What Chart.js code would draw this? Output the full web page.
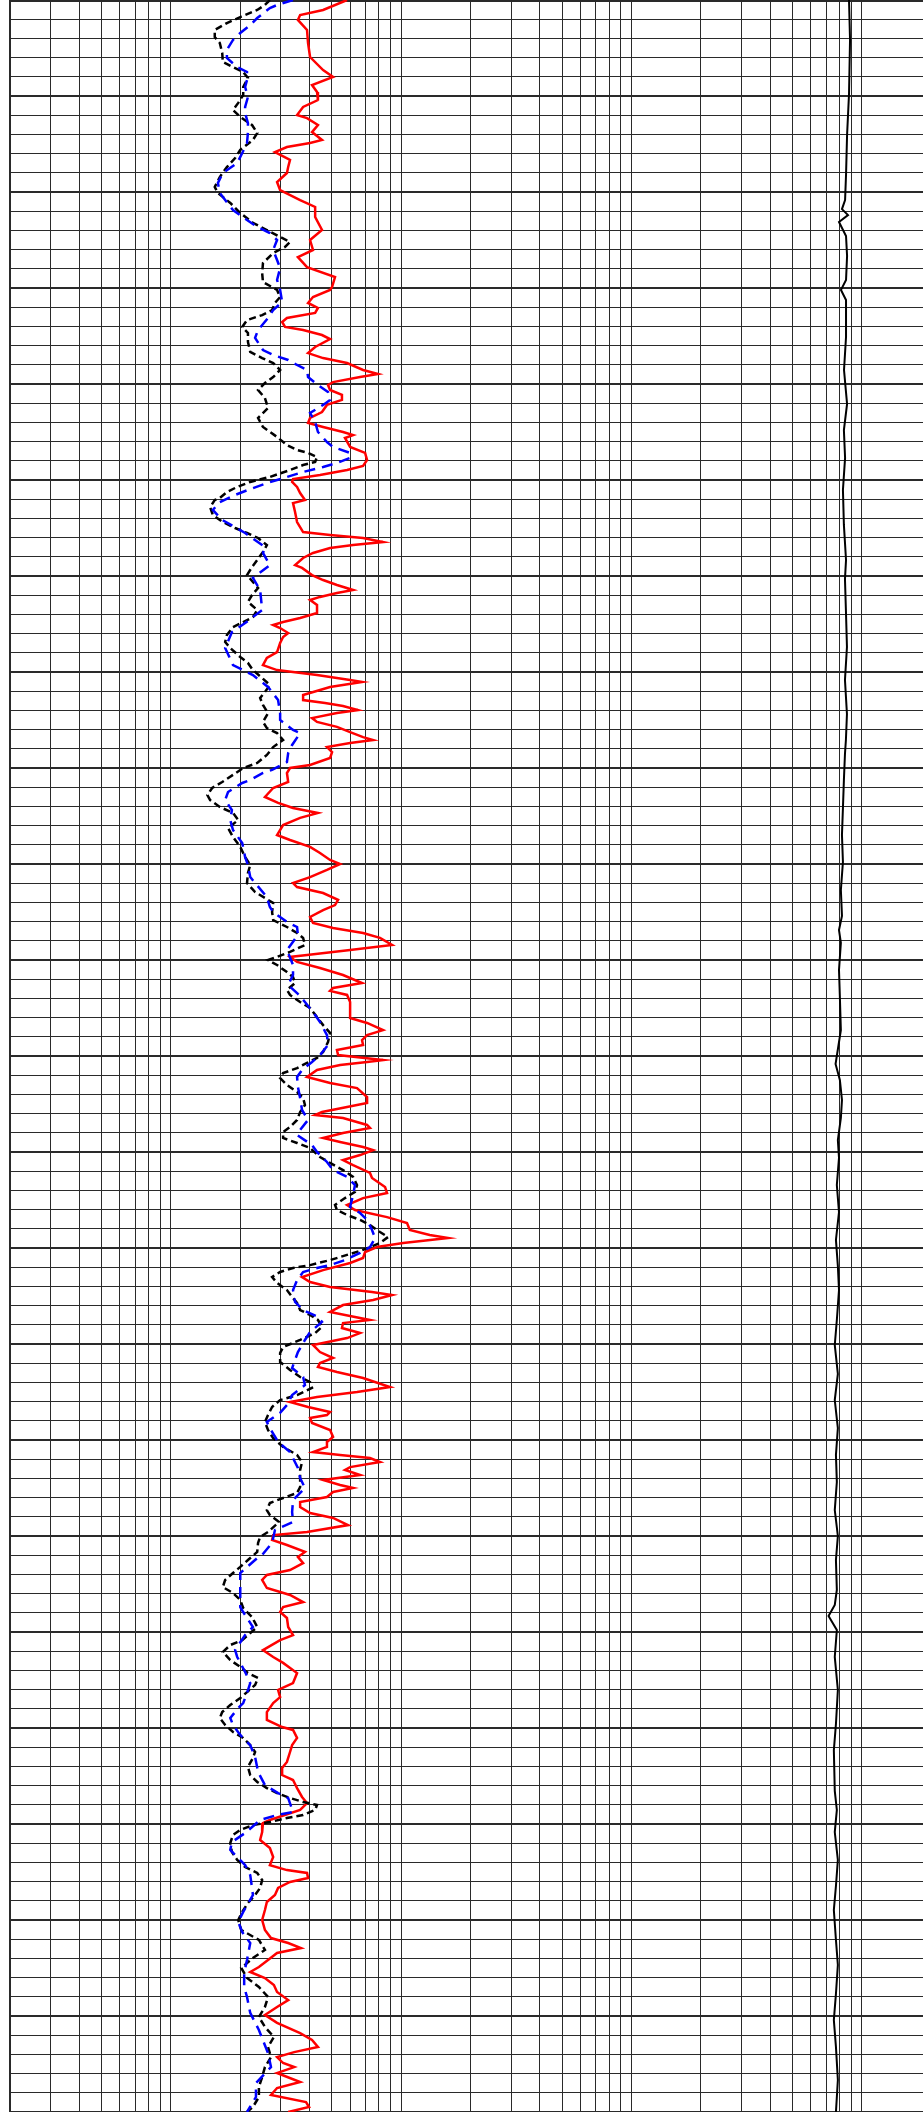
<!DOCTYPE html>
<html>
<head>
<meta charset="utf-8">
<title>Log track</title>
<script src="https://cdn.jsdelivr.net/npm/chart.js@4.4.1/dist/chart.umd.min.js"></script>
<style>
  html, body { margin: 0; padding: 0; background: #fff; overflow: hidden; }
  #wrap { width: 923px; height: 2112px; overflow: hidden; }
  canvas { display: block; }
</style>
</head>
<body>
<div id="wrap"><canvas id="logTrack" width="931" height="2112"></canvas></div>
<script>
// depth range of the track (no labels on the picture, 10 per minor line)
const depthTop = 0;
const depthBottom = 1100;

// log grid: decades x 1..9, track runs 0.2 .. 2000
const gridDecades = [0.1, 1, 10, 100, 1000];
const gridSteps = [1, 2, 3, 4, 5, 6, 7, 8, 9];
const scaleMin = 0.2;
const scaleMax = 2000;

// [depth, value]
// blue long dashes
const mediumCurve = [
  [0,3.39],[2.6,2.89],[4.2,2.69],[9.4,2.37],[13.0,2.21],[17.2,2.00],[20.8,1.86],[26.0,1.75],[30.2,1.75],[34.9,1.94],
  [37.5,2.14],[41.7,2.14],[45.3,2.10],[50.5,2.16],[55.7,2.10],[58.9,2.10],[64.1,2.16],[68.8,2.16],[74.5,2.14],[79.7,2.04],
  [84.9,1.94],[90.1,1.68],[95.3,1.60],[100.5,1.63],[104.2,1.72],[109.4,1.86],[114.6,2.14],[118.2,2.37],[121.4,2.69],[125.0,2.89],
  [130.2,2.78],[135.4,2.89],[139.6,2.98],[145.8,2.89],[151.0,2.98],[157.3,3.04],[161.5,2.78],[165.6,2.64],[171.9,2.39],[176.0,2.32],
  [182.3,2.51],[184.9,2.78],[187.5,3.23],[190.1,3.53],[192.7,3.90],[196.4,3.94],[200.5,4.35],[204.2,4.81],[208.3,4.91],[210.9,4.58],
  [215.1,4.02],[219.8,4.23],[225.0,4.35],[230.2,4.76],[232.8,5.06],[235.9,6.00],[238.5,6.00],[241.1,5.26],[243.2,4.58],[245.8,3.75],
  [248.4,3.19],[250.0,2.89],[251.6,2.61],[255.2,2.16],[257.8,1.90],[261.5,1.63],[265.6,1.52],[270.8,1.67],[277.6,2.10],[284.9,2.56],
  [288.0,2.51],[294.3,2.69],[301.0,2.27],[307.3,2.44],[317.7,2.49],[324.5,2.10],[329.2,1.84],[337.5,1.72],[346.4,1.86],[351.6,2.27],
  [357.8,2.64],[364.6,2.92],[371.4,2.98],[375.0,2.98],[380.2,3.39],[381.8,3.64],[388.0,3.36],[392.2,3.23],[396.9,3.19],[401.0,2.75],
  [402.6,2.51],[406.3,2.21],[407.8,2.04],[412.5,1.77],[416.7,1.72],[421.9,1.84],[427.1,1.81],[432.3,1.86],[439.1,2.04],[446.4,2.10],
  [450.5,2.16],[456.8,2.21],[459.9,2.32],[467.2,2.61],[472.4,2.69],[475.0,2.78],[480.2,3.19],[482.8,3.53],[487.0,3.56],[491.1,3.36],
  [494.8,3.19],[502.6,3.39],[507.8,3.39],[513.0,3.23],[517.2,3.53],[521.9,3.82],[527.1,4.14],[532.3,4.44],[539.1,4.76],[544.3,4.81],
  [549.5,4.44],[553.1,4.10],[557.3,3.71],[560.9,3.53],[566.1,3.56],[571.9,3.64],[578.1,3.71],[583.3,3.94],[588.5,3.64],[591.1,3.53],
  [596.4,4.10],[600.0,4.31],[605.2,4.76],[609.4,5.06],[613.0,5.82],[617.2,6.30],[622.4,6.18],[628.6,6.00],[631.8,6.63],[635.4,7.11],
  [640.6,7.47],[644.8,7.70],[649.5,7.32],[652.6,6.63],[656.3,5.70],[658.9,4.91],[660.4,4.31],[662.5,3.75],[666.7,3.53],[671.9,3.39],
  [678.1,3.46],[682.3,3.75],[685.9,4.35],[688.5,4.53],[693.8,4.02],[697.9,3.82],[704.2,3.56],[708.3,3.46],[712.5,3.36],[717.2,3.75],
  [721.4,3.82],[726.6,3.36],[731.8,3.19],[735.9,2.98],[740.6,2.61],[743.8,2.69],[751.0,2.92],[756.3,3.29],[764.6,3.56],[769.8,3.64],
  [775.0,3.82],[781.3,3.39],[787.5,3.36],[792.7,3.39],[796.9,2.83],[803.6,2.75],[809.9,2.49],[811.5,2.37],[819.3,2.00],[821.9,2.00],
  [829.2,2.00],[837.0,2.00],[839.6,2.06],[847.4,2.27],[851.6,2.10],[859.4,1.90],[863.0,1.94],[870.8,2.10],[876.6,2.21],[881.8,2.14],
  [887.0,2.06],[889.6,1.96],[894.8,1.81],[898.4,1.86],[903.6,2.00],[908.9,2.21],[915.1,2.32],[922.9,2.39],[929.7,2.56],[933.9,2.92],
  [936.5,3.23],[943.8,3.39],[945.3,2.89],[947.9,2.44],[954.7,2.10],[959.4,1.84],[963.5,1.81],[971.4,2.10],[976.6,2.21],[983.3,2.25],
  [987.0,2.27],[995.8,2.06],[1001.0,1.96],[1006.3,2.04],[1012.0,2.21],[1020.8,2.14],[1027.6,2.08],[1034.9,2.08],[1040.1,2.14],[1048.4,2.21],
  [1057.3,2.41],[1069.3,2.64],[1076.6,2.72],[1084.9,2.34],[1092.2,2.34],[1100,2.14]
];

// black short dashes
const shallowCurve = [
  [0,2.69],[2.6,2.56],[5.2,2.37],[8.9,2.00],[12.0,1.75],[15.6,1.55],[19.3,1.55],[22.4,1.63],[27.6,1.67],[32.3,1.68],
  [34.9,1.86],[37.5,2.06],[40.6,2.16],[45.3,2.06],[49.5,2.06],[53.6,1.96],[57.3,1.86],[60.9,2.00],[65.1,2.25],[69.3,2.37],
  [72.9,2.27],[78.1,2.00],[82.3,1.90],[87.0,1.75],[92.2,1.63],[97.4,1.55],[100.5,1.60],[105.7,1.81],[110.9,2.00],[116.1,2.27],
  [119.8,2.61],[123.4,2.98],[126.0,3.29],[128.6,3.13],[131.8,2.78],[137.0,2.51],[142.2,2.49],[146.9,2.51],[151.0,2.89],[154.7,2.98],
  [157.8,2.83],[161.5,2.75],[164.1,2.49],[166.7,2.14],[170.3,2.04],[173.4,2.16],[178.1,2.16],[183.3,2.21],[186.5,2.49],[189.1,2.78],
  [192.7,2.98],[196.4,2.78],[199.5,2.56],[203.1,2.39],[207.3,2.56],[212.5,2.64],[217.7,2.39],[222.4,2.51],[227.6,2.89],[231.8,3.19],
  [234.4,3.53],[235.9,3.94],[238.0,4.31],[240.6,4.23],[242.2,3.75],[244.8,3.29],[248.4,2.69],[251.0,2.21],[253.6,1.94],[256.3,1.75],
  [259.4,1.63],[260.4,1.55],[264.1,1.48],[268.2,1.52],[271.9,1.68],[275.0,1.90],[277.6,2.14],[280.2,2.39],[283.9,2.61],[287.5,2.51],
  [291.7,2.37],[295.3,2.25],[299.5,2.14],[303.1,2.27],[306.3,2.39],[309.9,2.25],[313.5,2.16],[317.7,2.37],[321.4,2.27],[324.0,2.06],
  [326.6,1.86],[330.7,1.75],[334.4,1.72],[337.5,1.81],[342.2,2.00],[345.3,2.16],[349.0,2.27],[353.1,2.49],[356.8,2.69],[360.4,2.56],
  [363.5,2.44],[367.2,2.51],[371.4,2.64],[376.0,2.51],[379.2,2.61],[381.8,2.89],[385.4,3.07],[389.1,2.78],[393.2,2.61],[397.4,2.37],
  [400.0,2.06],[403.6,1.86],[407.3,1.67],[410.4,1.51],[414.1,1.44],[416.7,1.48],[420.3,1.63],[423.4,1.86],[427.1,1.96],[431.3,1.77],
  [435.9,1.86],[441.1,2.00],[446.4,2.10],[450.5,2.21],[454.7,2.16],[459.9,2.14],[464.6,2.32],[467.7,2.56],[470.3,2.78],[475.0,2.75],
  [479.2,2.78],[482.8,3.19],[485.9,3.53],[488.5,3.75],[492.2,3.82],[495.8,3.29],[498.4,2.89],[500.0,2.64],[502.6,2.89],[506.3,3.19],
  [508.9,3.39],[512.0,3.46],[515.6,3.19],[518.2,3.29],[521.9,3.64],[525.0,4.02],[529.7,4.31],[533.9,4.58],[538.0,4.91],[542.7,4.81],
  [547.9,4.58],[551.0,4.31],[553.6,3.90],[556.3,3.53],[558.9,3.07],[561.5,2.98],[565.1,3.19],[568.8,3.53],[571.9,3.75],[575.5,3.82],
  [579.2,3.64],[583.3,3.53],[587.0,3.29],[589.6,3.07],[592.7,3.07],[595.3,3.53],[597.9,4.02],[602.6,4.44],[605.7,4.91],[609.4,5.59],
  [613.0,6.18],[617.2,6.43],[620.8,6.30],[624.0,5.70],[627.6,5.16],[630.2,5.26],[632.8,5.82],[635.4,6.63],[638.0,7.32],[641.7,8.09],
  [644.3,8.77],[647.4,8.09],[651.0,6.83],[653.6,5.82],[656.3,4.91],[658.9,4.02],[660.4,3.39],[662.5,2.98],[665.1,2.75],[668.2,2.89],
  [671.9,3.19],[675.5,3.36],[678.6,3.53],[682.3,3.64],[684.9,4.02],[687.5,4.35],[691.1,4.53],[694.3,4.23],[697.9,3.64],[701.6,3.07],
  [704.7,2.98],[709.4,2.98],[713.5,3.29],[717.2,3.64],[719.8,4.02],[722.9,4.10],[726.6,3.53],[729.2,2.98],[732.8,2.75],[737.0,2.64],
  [740.6,2.56],[744.8,2.64],[749.0,2.78],[753.6,3.07],[757.8,3.53],[761.5,3.71],[765.6,3.64],[769.8,3.64],[774.5,3.64],[777.6,3.53],
  [780.2,3.07],[782.8,2.69],[786.5,2.61],[789.1,2.69],[792.7,2.95],[797.9,2.64],[800.5,2.44],[803.6,2.39],[808.3,2.37],[812.5,2.16],
  [816.1,2.00],[819.3,1.86],[822.9,1.72],[826.6,1.68],[829.7,1.86],[833.3,2.00],[837.5,2.06],[842.2,2.25],[847.4,2.37],[850.5,2.21],
  [854.2,2.04],[856.8,1.81],[860.4,1.68],[864.6,1.81],[868.2,2.00],[871.4,2.16],[874.0,2.39],[877.6,2.32],[881.3,2.14],[884.4,2.00],
  [888.0,1.81],[891.7,1.67],[894.8,1.63],[898.4,1.72],[902.1,1.86],[905.2,2.06],[908.9,2.21],[912.5,2.32],[915.6,2.27],[920.3,2.16],
  [924.5,2.21],[928.1,2.37],[931.3,2.61],[933.9,2.89],[936.5,3.29],[938.5,3.75],[940.1,4.31],[942.7,4.23],[945.3,3.75],[946.9,3.19],
  [949.0,2.69],[950.5,2.27],[953.1,2.00],[955.7,1.86],[959.9,1.81],[964.6,1.84],[968.7,1.94],[972.4,2.10],[975.5,2.37],[979.2,2.49],
  [983.3,2.44],[987.0,2.32],[991.1,2.16],[995.8,2.04],[1000.0,1.96],[1005.2,2.02],[1010.4,2.41],[1015.6,2.56],[1019.8,2.27],[1025.0,2.02],
  [1030.2,2.14],[1034.9,2.41],[1040.1,2.64],[1045.3,2.56],[1050.5,2.41],[1055.7,2.56],[1060.9,2.80],[1066.1,2.64],[1071.4,2.72],[1076.6,2.56],
  [1081.8,2.49],[1087.0,2.41],[1092.2,2.41],[1097.4,2.27],[1100,2.14]
];

// red solid
const deepCurve = [
  [0,5.82],[5.2,4.58],[7.8,3.64],[10.4,3.56],[15.6,3.90],[22.4,3.94],[29.7,4.02],[36.5,4.58],[40.1,5.06],[44.3,4.10],
  [47.9,4.31],[52.1,4.35],[55.7,3.75],[59.9,3.53],[61.5,3.90],[65.1,4.35],[68.8,4.10],[72.9,4.53],[74.5,4.02],[76.6,3.19],
  [79.2,2.83],[83.3,3.29],[87.0,3.23],[90.1,3.19],[94.8,2.89],[99.0,2.98],[104.2,3.64],[107.8,4.23],[113.0,4.23],[119.8,4.53],
  [125.0,4.02],[130.2,4.14],[133.9,3.56],[139.1,3.90],[144.3,5.16],[149.5,5.01],[151.0,4.91],[154.7,4.14],[157.8,3.94],[160.4,4.35],
  [163.0,4.23],[165.6,3.19],[167.7,3.04],[170.3,3.13],[171.9,3.75],[174.5,4.53],[176.6,4.91],[180.7,4.23],[183.9,3.94],[186.5,4.58],
  [189.1,5.82],[192.7,6.83],[194.8,7.93],[196.4,6.63],[199.0,5.06],[200.5,4.81],[203.1,4.91],[205.7,5.53],[208.3,5.53],[210.9,4.76],
  [214.6,4.53],[217.7,4.02],[220.3,3.94],[222.4,4.58],[225.0,5.59],[226.6,6.18],[228.1,5.70],[232.8,6.00],[235.9,6.97],[239.6,7.11],
  [242.7,6.83],[244.8,5.82],[247.4,4.44],[249.5,3.39],[251.0,3.36],[253.6,3.53],[256.8,3.64],[260.4,3.82],[262.0,3.39],[266.7,3.46],
  [271.9,3.53],[277.1,3.75],[278.6,4.91],[280.2,6.83],[282.3,8.34],[283.9,6.18],[285.4,4.91],[288.0,4.14],[290.6,3.75],[294.3,3.46],
  [295.8,3.71],[299.5,4.10],[302.1,4.58],[304.7,5.26],[307.3,6.18],[308.9,5.26],[310.9,4.44],[312.5,4.02],[315.1,4.31],[319.3,4.31],
  [321.9,3.64],[324.0,3.07],[325.5,2.78],[327.1,2.98],[329.7,3.23],[331.8,3.07],[334.9,2.98],[339.6,2.89],[342.7,2.61],[346.4,2.51],
  [349.0,2.89],[351.6,4.31],[354.2,6.00],[355.2,6.76],[357.8,4.91],[359.4,4.44],[362.0,3.75],[364.6,3.75],[366.1,4.67],[367.7,5.59],
  [369.8,6.49],[371.4,5.26],[374.0,4.10],[376.0,4.31],[378.6,5.26],[381.3,6.00],[383.9,6.83],[385.4,7.55],[387.0,6.00],[389.1,4.76],
  [391.7,5.01],[394.8,4.91],[398.4,4.02],[400.0,3.29],[402.6,3.19],[407.3,3.23],[410.4,2.78],[415.1,2.56],[418.2,2.92],[420.8,3.39],
  [423.4,4.35],[426.0,3.64],[429.7,3.07],[434.9,2.89],[437.5,3.29],[441.1,4.02],[444.3,4.44],[447.9,4.91],[450.0,5.43],[453.1,4.76],
  [456.8,4.02],[459.9,3.39],[462.0,3.53],[465.1,4.58],[468.7,5.32],[471.4,5.16],[474.0,4.58],[477.6,4.02],[480.7,4.14],[483.3,5.06],
  [485.9,6.83],[488.5,8.09],[492.2,9.13],[494.8,6.00],[497.4,3.90],[498.4,3.29],[501.0,3.53],[504.2,4.44],[507.8,5.59],[512.0,6.76],
  [514.6,5.06],[516.1,4.91],[518.2,5.82],[521.9,6.00],[530.2,6.00],[532.8,7.11],[536.5,8.34],[539.1,7.11],[541.7,6.76],[544.3,6.83],
  [546.9,5.26],[549.5,5.32],[552.1,8.34],[553.1,7.11],[554.7,5.43],[557.3,4.31],[560.9,3.90],[564.1,4.91],[566.7,6.43],[571.4,7.11],
  [574.5,7.11],[576.6,5.82],[579.2,4.53],[580.7,4.23],[582.3,5.59],[585.9,7.11],[587.5,7.32],[590.1,5.59],[592.7,4.58],[594.8,5.43],
  [597.4,6.83],[599.0,7.55],[601.6,6.63],[604.2,5.59],[606.8,6.18],[610.9,7.32],[613.5,7.47],[618.2,8.51],[621.4,8.68],[624.0,6.83],
  [627.6,5.82],[630.2,6.30],[633.9,8.68],[637.0,10.6],[640.6,10.9],[643.2,13.3],[644.8,16.0],[647.4,10.2],[649.5,7.85],[652.1,6.97],
  [655.2,6.83],[657.8,6.00],[661.5,4.58],[665.1,3.71],[667.7,4.02],[670.3,4.91],[672.9,7.47],[674.5,9.13],[677.1,7.55],[679.7,5.59],
  [683.3,4.91],[685.9,6.30],[687.5,7.32],[689.1,5.59],[691.7,5.53],[694.3,6.63],[696.9,5.82],[700.5,4.14],[704.2,4.44],[707.3,5.06],
  [709.9,4.44],[712.0,4.35],[714.6,5.26],[717.7,6.83],[722.4,8.94],[725.0,6.43],[727.6,4.31],[730.2,3.29],[732.8,3.94],[735.4,4.91],
  [737.0,4.76],[738.5,4.02],[741.1,4.10],[744.8,4.91],[748.4,5.06],[751.0,4.76],[753.6,4.76],[756.3,4.14],[757.8,5.43],[759.4,7.32],
  [761.5,8.09],[764.1,6.00],[765.6,5.70],[768.2,6.63],[770.8,4.58],[773.4,5.43],[775.0,6.18],[777.1,5.06],[779.7,4.76],[782.3,3.64],
  [784.9,3.64],[788.0,4.02],[790.6,5.06],[794.3,5.88],[797.9,3.90],[799.5,2.78],[802.1,2.75],[804.7,3.19],[808.3,3.82],[810.9,3.56],
  [814.1,3.75],[817.7,3.29],[820.3,2.61],[822.9,2.49],[827.1,2.61],[830.7,3.29],[834.4,3.75],[837.0,3.07],[839.6,2.98],[842.7,3.19],
  [847.4,3.23],[851.6,3.39],[854.2,2.98],[859.4,2.51],[863.0,2.78],[866.1,3.07],[871.4,3.53],[876.6,3.39],[880.2,2.92],[883.9,2.98],
  [887.0,2.78],[891.7,2.61],[895.8,2.61],[899.5,3.04],[901.0,3.39],[905.2,3.53],[908.9,3.36],[912.5,3.29],[917.7,3.19],[920.8,3.04],
  [924.5,3.04],[927.1,3.39],[931.3,3.53],[935.9,3.71],[939.1,3.90],[942.7,3.64],[947.9,2.69],[949.5,2.51],[954.2,2.49],[958.3,2.44],
  [962.5,2.69],[967.2,2.78],[971.4,2.69],[974.0,3.19],[975.5,3.90],[978.1,3.94],[980.2,3.29],[983.3,2.92],[987.0,2.83],[990.6,2.61],
  [994.8,2.56],[1000.0,2.49],[1005.2,2.56],[1009.4,2.72],[1012.0,3.23],[1014.6,3.67],[1017.2,2.89],[1020.8,2.64],[1024.5,2.41],[1027.1,2.21],
  [1030.2,2.56],[1033.9,2.80],[1037.5,2.89],[1041.7,3.23],[1045.3,2.89],[1049.5,2.56],[1053.6,2.89],[1058.9,3.64],[1062.5,4.10],[1066.1,4.35],
  [1068.8,3.43],[1071.4,2.89],[1074.5,3.07],[1076.6,3.43],[1079.7,2.89],[1084.4,3.64],[1087.5,2.89],[1091.1,2.72],[1094.8,3.86],[1097.4,3.98],
  [1100.0,3.23]
];

// black solid on the right
const rightCurve = [
  [0,881],[20.8,890],[49.0,881],[70.3,864],[91.1,855],[104.2,847],[108.9,821],[112.0,872],[115.6,797],[122.9,855],
  [133.3,864],[145.8,855],[151.0,813],[156.3,855],[175.5,855],[192.7,838],[210.4,864],[224.0,837],[238.5,847],[255.2,829],
  [273.4,837],[291.7,855],[301.6,846],[317.7,854],[337.0,863],[354.2,846],[371.9,863],[385.4,854],[392.7,846],[406.3,837],
  [420.8,829],[434.9,821],[449.0,829],[463.5,812],[477.1,821],[484.4,797],[491.1,812],[505.2,797],[519.3,804],[536.5,812],
  [554.2,770],[562.5,804],[572.9,821],[582.3,812],[593.8,788],[603.1,797],[617.2,780],[631.3,797],[645.8,773],[659.4,788],
  [671.9,797],[687.5,780],[700.5,764],[715.6,788],[729.2,764],[743.8,788],[757.8,773],[771.9,780],[786.5,764],[800.0,788],
  [812.5,773],[828.1,780],[835.9,764],[841.7,718],[849.0,780],[863.0,764],[880.2,788],[897.9,773],[911.5,757],[932.8,764],
  [942.7,780],[954.2,764],[968.7,788],[982.3,773],[994.8,757],[1010.4,773],[1023.4,788],[1038.5,773],[1052.1,757],[1066.1,773],
  [1083.3,788],[1100,773]
];

function toPoints(rows) {
  return rows.map(r => ({ x: r[1], y: r[0] }));
}

// grid values for the log axis
const xGridValues = [];
gridDecades.forEach(d => {
  gridSteps.forEach(s => {
    const v = +(d * s).toPrecision(6);
    if (v >= scaleMin && v <= scaleMax) xGridValues.push(v);
  });
});
if (xGridValues[xGridValues.length - 1] !== scaleMax) xGridValues.push(scaleMax);

const yGridValues = [];
for (let d = depthTop; d <= depthBottom; d += 10) yGridValues.push(d);

const ctx = document.getElementById('logTrack').getContext('2d');
new Chart(ctx, {
  type: 'scatter',
  data: {
    datasets: [
      {
        label: 'medium',
        data: toPoints(mediumCurve),
        showLine: true,
        borderColor: '#0000ff',
        borderWidth: 2.5,
        borderDash: [11, 7],
        pointRadius: 0,
        tension: 0
      },
      {
        label: 'shallow',
        data: toPoints(shallowCurve),
        showLine: true,
        borderColor: '#000000',
        borderWidth: 2.5,
        borderDash: [7, 4],
        pointRadius: 0,
        tension: 0
      },
      {
        label: 'deep',
        data: toPoints(deepCurve),
        showLine: true,
        borderColor: '#ff0000',
        borderWidth: 2.5,
        pointRadius: 0,
        tension: 0
      },
      {
        label: 'right',
        data: toPoints(rightCurve),
        showLine: true,
        borderColor: '#000000',
        borderWidth: 2,
        pointRadius: 0,
        tension: 0
      }
    ]
  },
  options: {
    responsive: false,
    animation: false,
    devicePixelRatio: 1,
    layout: { padding: { left: 10, right: 0, top: 0, bottom: 0 } },
    plugins: {
      legend: { display: false },
      tooltip: { enabled: false }
    },
    scales: {
      x: {
        type: 'logarithmic',
        min: scaleMin,
        max: scaleMax,
        afterBuildTicks: scale => {
          scale.ticks = xGridValues.map(v => ({ value: v }));
        },
        ticks: { display: false },
        border: { display: false },
        grid: {
          color: '#2a2a2a',
          drawTicks: false,
          lineWidth: c => (c.tick && c.tick.value === scaleMin) ? 2 : 1
        }
      },
      y: {
        type: 'linear',
        reverse: true,
        min: depthTop,
        max: depthBottom,
        afterBuildTicks: scale => {
          scale.ticks = yGridValues.map(v => ({ value: v }));
        },
        ticks: { display: false },
        border: { display: false },
        grid: {
          color: '#2a2a2a',
          drawTicks: false,
          lineWidth: c => {
            if (!c.tick) return 1;
            if (c.tick.value === depthTop) return 4;
            return c.tick.value % 50 === 0 ? 2 : 1;
          }
        }
      }
    }
  }
});
</script>
</body>
</html>
